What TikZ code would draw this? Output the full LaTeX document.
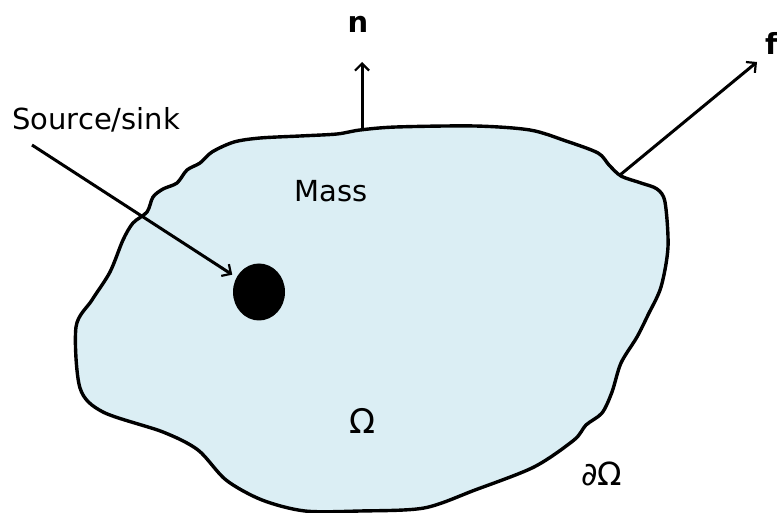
\documentclass[tikz,border=0pt]{standalone}
\usepackage{fontspec}
\setmainfont{DejaVu Sans}
\usetikzlibrary{arrows.meta,shapes.geometric}
\definecolor{massblue}{RGB}{219,238,244}
\begin{document}
\begin{tikzpicture}[x=1pt,y=-1pt,
  lbl/.style={font=\fontsize{29}{34}\selectfont, inner sep=0pt, anchor=base west},
  vec/.style={line width=3pt, -{Straight Barb[length=7pt,width=14pt,line width=2.2pt]}},
  outline/.style={line width=3.4pt, fill=massblue, line join=round}]
\useasboundingbox (0,0) rectangle (777,513);
\draw[outline] plot[smooth cycle, tension=0.5] coordinates {
 (260,138) (300,136) (337,134) (360,130) (396,127) (475,126) (530,130) (566,141)
 (598,153) (609,165) (621,176) (641,183) (657,189) (665,202) (668,247) (661,287)
 (648,315) (637,337) (621,363) (612,392) (602,413) (586,425) (574,440) (534,467)
 (475,490) (424,508) (360,511) (305,511) (262,500) (226,480) (198,450) (163,432)
 (103,412) (80,388) (76,327) (92,300) (110,272) (123,240) (133,223) (147,212)
 (153,197) (163,189) (177,183) (187,170) (200,163) (212,152) (234,142)};
\node[ellipse, fill=black, minimum width=52pt, minimum height=57pt, inner sep=0pt] (src) at (259,292) {};
\node[lbl] (ss) at (12,130) {Source/sink};
\node[lbl] (mass) at (294,202) {Mass};
\node[lbl, anchor=base, font=\fontsize{34}{40}\selectfont] (om) at (362,433) {Ω};
\node[lbl, font=\fontsize{32}{38}\selectfont] (dom) at (581,485) {∂Ω};
\node[lbl, anchor=base, font=\fontsize{29}{34}\selectfont\bfseries] (n) at (358,33) {n};
\node[lbl, font=\fontsize{29}{34}\selectfont\bfseries] (f) at (765,55) {f};
\coordinate (ssStart) at (32,145);
\coordinate (nfoot) at (362,130);
\coordinate (ntip) at (362,62);
\coordinate (ffoot) at (620,175);
\coordinate (ftip) at (757,62);
\draw[vec, shorten >=5pt] (ssStart) -- (src);
\draw[vec] (nfoot) -- (ntip);
\draw[vec] (ffoot) -- (ftip);
\end{tikzpicture}
\end{document}
